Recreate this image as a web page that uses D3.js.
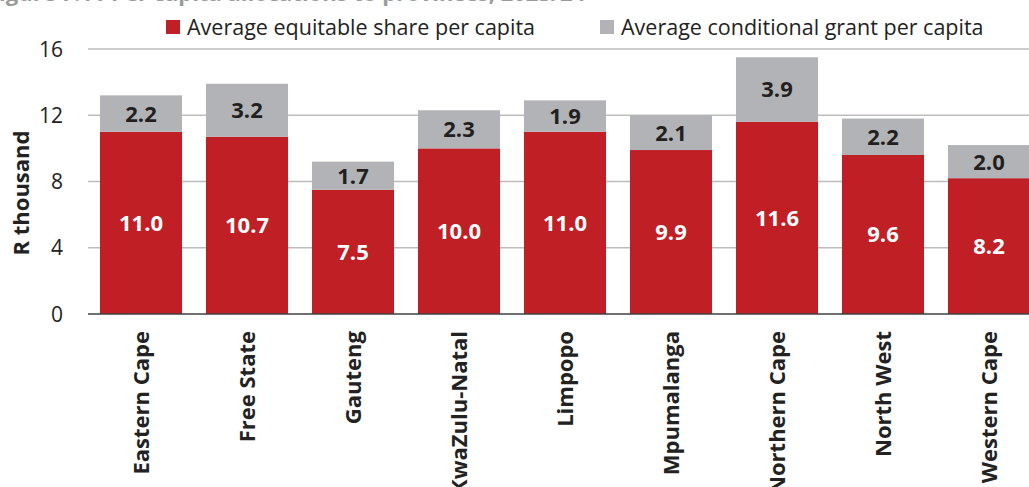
<!DOCTYPE html>
<html><head><meta charset="utf-8">
<script src="https://cdn.jsdelivr.net/npm/d3@7"></script>
<style>
html,body{margin:0;padding:0;background:#fff;overflow:hidden;}
text{font-family:"Open Sans",Lato,sans-serif;}
</style></head>
<body><svg id="c" width="1029" height="487"></svg>
<script>
const categories = ["Eastern Cape","Free State","Gauteng","KwaZulu-Natal","Limpopo","Mpumalanga","Northern Cape","North West","Western Cape"];
const equitableShare = [11.0,10.7,7.5,10.0,11.0,9.9,11.6,9.6,8.2];
const conditionalGrant = [2.2,3.2,1.7,2.3,1.9,2.1,3.9,2.2,2.0];
const yTicks = [0,4,8,12,16];
const seriesNames = ["Average equitable share per capita","Average conditional grant per capita"];
const colors = ["#C01F26","#B1B3B6"];
const titleText = "Figure 7.11 Per capita allocations to provinces, 2023/24";

const svg = d3.select("#c");
const x = d3.scaleBand().domain(categories).range([88,1042]).paddingInner(0.226).paddingOuter(0.113);
const y = d3.scaleLinear().domain([0,16]).range([314,49]);

// title (clipped at top)
svg.append("text").attr("x",-13).attr("y",1).attr("font-size",22).attr("font-weight","bold")
  .attr("fill","#9a9a9a").text(titleText);

// gridlines
svg.append("g").selectAll("line").data(yTicks.filter(d=>d>0)).join("line")
  .attr("x1",88).attr("x2",1029).attr("y1",d=>y(d)).attr("y2",d=>y(d))
  .attr("stroke","#bdbdbd").attr("stroke-width",1.3);

// y tick labels
svg.append("g").selectAll("text").data(yTicks).join("text")
  .attr("x",63).attr("y",d=>y(d)).attr("dy","0.36em").attr("text-anchor","end")
  .attr("font-size",21).attr("fill","#222").text(d=>d);

// y title
svg.append("text").attr("transform","translate(29,193) rotate(-90)").attr("text-anchor","middle")
  .attr("font-size",22).attr("font-weight","bold").attr("fill","#222").text("R thousand");

// bars
const g = svg.append("g");
g.selectAll("rect.eq").data(categories).join("rect").attr("class","eq")
  .attr("x",d=>x(d)).attr("width",x.bandwidth())
  .attr("y",(d,i)=>y(equitableShare[i])).attr("height",(d,i)=>y(0)-y(equitableShare[i]))
  .attr("fill",colors[0]);
g.selectAll("rect.cg").data(categories).join("rect").attr("class","cg")
  .attr("x",d=>x(d)).attr("width",x.bandwidth())
  .attr("y",(d,i)=>y(equitableShare[i]+conditionalGrant[i]))
  .attr("height",(d,i)=>y(equitableShare[i])-y(equitableShare[i]+conditionalGrant[i]))
  .attr("fill",colors[1]);

// value labels
g.selectAll("text.eq").data(categories).join("text").attr("class","eq")
  .attr("x",d=>x(d)+x.bandwidth()/2).attr("y",(d,i)=>(y(0)+y(equitableShare[i]))/2)
  .attr("dy","0.36em").attr("text-anchor","middle").attr("font-size",22).attr("font-weight","bold")
  .attr("fill","#fff").text((d,i)=>equitableShare[i].toFixed(1));
g.selectAll("text.cg").data(categories).join("text").attr("class","cg")
  .attr("x",d=>x(d)+x.bandwidth()/2)
  .attr("y",(d,i)=>(y(equitableShare[i])+y(equitableShare[i]+conditionalGrant[i]))/2)
  .attr("dy","0.36em").attr("text-anchor","middle").attr("font-size",22).attr("font-weight","bold")
  .attr("fill","#231f20").text((d,i)=>conditionalGrant[i].toFixed(1));

// baseline
svg.append("line").attr("x1",88).attr("x2",1029).attr("y1",y(0)).attr("y2",y(0))
  .attr("stroke","#404040").attr("stroke-width",1.5);

// category labels
svg.append("g").selectAll("text").data(categories).join("text")
  .attr("transform",d=>`translate(${x(d)+x.bandwidth()/2},331) rotate(-90)`)
  .attr("dy","0.36em").attr("text-anchor","end").attr("font-size",22).attr("font-weight","bold")
  .attr("fill","#222").text(d=>d);

// legend
const legX = [166,600];
const lg = svg.append("g");
seriesNames.forEach((s,i)=>{
  lg.append("rect").attr("x",legX[i]).attr("y",20).attr("width",14).attr("height",14).attr("fill",colors[i]);
  lg.append("text").attr("x",legX[i]+21).attr("y",27).attr("dy","0.36em").attr("font-size",21.5)
    .attr("fill","#222").text(s);
});
</script></body></html>
